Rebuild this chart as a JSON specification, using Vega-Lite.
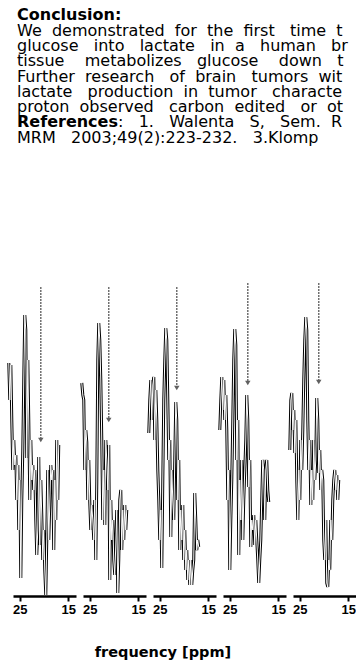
{
  "$schema": "https://vega.github.io/schema/vega-lite/v6.json",
  "background": "white",
  "padding": {"left": 2, "top": 0, "right": 0, "bottom": 0},
  "bounds": "flush",
  "spacing": 130,
  "config": {"view": {"stroke": null}, "font": "DejaVu Sans"},
  "title": {"text": "frequency [ppm]", "orient": "bottom", "anchor": "start", "dx": 92, "offset": 30, "fontSize": 14.5, "fontWeight": "bold", "font": "DejaVu Sans", "color": "black"},
  "datasets": {
    "txt": [
      {"line": 1, "w": "b", "t": "Conclusion:"},
      {"line": 2, "w": "n", "t": "We\u00a0 demonstrated\u00a0 for\u00a0 the\u00a0 first\u00a0\u00a0 time\u00a0 t"},
      {"line": 3, "w": "n", "t": "glucose\u00a0\u00a0 into\u00a0\u00a0 lactate\u00a0\u00a0 in\u00a0 a\u00a0\u00a0 human\u00a0\u00a0 br"},
      {"line": 4, "w": "n", "t": "tissue\u00a0\u00a0\u00a0 metabolizes\u00a0\u00a0 glucose\u00a0\u00a0\u00a0 down\u00a0\u00a0 t"},
      {"line": 5, "w": "n", "t": "Further\u00a0 research\u00a0\u00a0 of\u00a0 brain\u00a0\u00a0 tumors\u00a0 wit"},
      {"line": 6, "w": "n", "t": "lactate\u00a0\u00a0 production\u00a0 in\u00a0 tumor\u00a0\u00a0 characte"},
      {"line": 7, "w": "n", "t": "proton\u00a0 observed\u00a0\u00a0 carbon\u00a0 edited\u00a0\u00a0 or\u00a0 ot"},
      {"line": 8, "w": "b", "t": "References"},
      {"line": 8, "w": "r", "t": ":\u00a0\u00a0 1.\u00a0\u00a0 Walenta\u00a0\u00a0 S,\u00a0\u00a0 Sem.\u00a0 R"},
      {"line": 9, "w": "n", "t": "MRM\u00a0\u00a0 2003;49(2):223-232.\u00a0\u00a0 3.Klomp"}
    ],
    "d": [
      {"k":"a","p":1,"x":20.67,"v":309,"v2":156},
      {"k":"a","p":2,"x":21.09,"v":309,"v2":176},
      {"k":"a","p":3,"x":21.5,"v":309,"v2":208},
      {"k":"a","p":4,"x":21.29,"v":313,"v2":213},
      {"k":"a","p":5,"x":21.09,"v":313,"v2":214},
      {"k":"s","p":1,"x":27.27,"v":233},{"k":"s","p":1,"x":27.06,"v":196},{"k":"s","p":1,"x":26.85,"v":231},{"k":"s","p":1,"x":26.65,"v":176},{"k":"s","p":1,"x":26.44,"v":126},{"k":"s","p":1,"x":26.24,"v":156},{"k":"s","p":1,"x":26.03,"v":131},{"k":"s","p":1,"x":25.82,"v":141},{"k":"s","p":1,"x":25.62,"v":96},{"k":"s","p":1,"x":25.41,"v":131},{"k":"s","p":1,"x":25.21,"v":66},{"k":"s","p":1,"x":25.0,"v":116},{"k":"s","p":1,"x":24.79,"v":18},{"k":"s","p":1,"x":24.59,"v":96},{"k":"s","p":1,"x":24.38,"v":146},{"k":"s","p":1,"x":24.18,"v":216},{"k":"s","p":1,"x":23.97,"v":281},{"k":"s","p":1,"x":23.76,"v":266},{"k":"s","p":1,"x":23.56,"v":138},{"k":"s","p":1,"x":23.35,"v":236},{"k":"s","p":1,"x":23.15,"v":176},{"k":"s","p":1,"x":22.94,"v":96},{"k":"s","p":1,"x":22.73,"v":156},{"k":"s","p":1,"x":22.53,"v":116},{"k":"s","p":1,"x":22.32,"v":131},{"k":"s","p":1,"x":22.12,"v":106},{"k":"s","p":1,"x":21.91,"v":126},{"k":"s","p":1,"x":21.7,"v":76},{"k":"s","p":1,"x":21.5,"v":41},{"k":"s","p":1,"x":21.29,"v":66},{"k":"s","p":1,"x":21.09,"v":139},{"k":"s","p":1,"x":20.88,"v":51},{"k":"s","p":1,"x":20.67,"v":116},{"k":"s","p":1,"x":20.47,"v":81},{"k":"s","p":1,"x":20.26,"v":36},{"k":"s","p":1,"x":20.06,"v":66},{"k":"s","p":1,"x":19.85,"v":26},{"k":"s","p":1,"x":19.64,"v":1},{"k":"s","p":1,"x":19.44,"v":56},{"k":"s","p":1,"x":19.23,"v":126},{"k":"s","p":1,"x":19.03,"v":56},{"k":"s","p":1,"x":18.82,"v":91},{"k":"s","p":1,"x":18.61,"v":131},{"k":"s","p":1,"x":18.41,"v":116},{"k":"s","p":1,"x":18.2,"v":126},{"k":"s","p":1,"x":18.0,"v":46},{"k":"s","p":1,"x":17.79,"v":116},{"k":"s","p":1,"x":17.58,"v":76},{"k":"s","p":1,"x":17.38,"v":156},{"k":"s","p":1,"x":17.17,"v":96},{"k":"s","p":1,"x":16.97,"v":151},
      {"k":"s","p":2,"x":26.65,"v":213},{"k":"s","p":2,"x":26.44,"v":201},{"k":"s","p":2,"x":26.24,"v":196},{"k":"s","p":2,"x":26.03,"v":126},{"k":"s","p":2,"x":25.82,"v":166},{"k":"s","p":2,"x":25.62,"v":154},{"k":"s","p":2,"x":25.41,"v":96},{"k":"s","p":2,"x":25.21,"v":136},{"k":"s","p":2,"x":25.0,"v":93},{"k":"s","p":2,"x":24.79,"v":66},{"k":"s","p":2,"x":24.59,"v":91},{"k":"s","p":2,"x":24.38,"v":76},{"k":"s","p":2,"x":24.18,"v":56},{"k":"s","p":2,"x":23.97,"v":96},{"k":"s","p":2,"x":23.76,"v":36},{"k":"s","p":2,"x":23.56,"v":113},{"k":"s","p":2,"x":23.35,"v":236},{"k":"s","p":2,"x":23.15,"v":273},{"k":"s","p":2,"x":22.94,"v":256},{"k":"s","p":2,"x":22.73,"v":216},{"k":"s","p":2,"x":22.53,"v":156},{"k":"s","p":2,"x":22.32,"v":76},{"k":"s","p":2,"x":22.12,"v":126},{"k":"s","p":2,"x":21.91,"v":71},{"k":"s","p":2,"x":21.7,"v":156},{"k":"s","p":2,"x":21.5,"v":136},{"k":"s","p":2,"x":21.29,"v":106},{"k":"s","p":2,"x":21.09,"v":151},{"k":"s","p":2,"x":20.88,"v":16},{"k":"s","p":2,"x":20.67,"v":96},{"k":"s","p":2,"x":20.47,"v":56},{"k":"s","p":2,"x":20.26,"v":76},{"k":"s","p":2,"x":20.06,"v":36},{"k":"s","p":2,"x":19.85,"v":21},{"k":"s","p":2,"x":19.64,"v":51},{"k":"s","p":2,"x":19.44,"v":86},{"k":"s","p":2,"x":19.23,"v":3},{"k":"s","p":2,"x":19.03,"v":36},{"k":"s","p":2,"x":18.82,"v":96},{"k":"s","p":2,"x":18.61,"v":106},{"k":"s","p":2,"x":18.41,"v":46},{"k":"s","p":2,"x":18.2,"v":86},{"k":"s","p":2,"x":18.0,"v":56},{"k":"s","p":2,"x":17.79,"v":91},{"k":"s","p":2,"x":17.58,"v":66},{"k":"s","p":2,"x":17.38,"v":86},
      {"k":"s","p":3,"x":27.27,"v":163},{"k":"s","p":3,"x":27.06,"v":196},{"k":"s","p":3,"x":26.85,"v":216},{"k":"s","p":3,"x":26.65,"v":176},{"k":"s","p":3,"x":26.44,"v":211},{"k":"s","p":3,"x":26.24,"v":219},{"k":"s","p":3,"x":26.03,"v":156},{"k":"s","p":3,"x":25.82,"v":206},{"k":"s","p":3,"x":25.62,"v":176},{"k":"s","p":3,"x":25.41,"v":126},{"k":"s","p":3,"x":25.21,"v":96},{"k":"s","p":3,"x":25.0,"v":56},{"k":"s","p":3,"x":24.79,"v":86},{"k":"s","p":3,"x":24.59,"v":28},{"k":"s","p":3,"x":24.38,"v":116},{"k":"s","p":3,"x":24.18,"v":196},{"k":"s","p":3,"x":23.97,"v":236},{"k":"s","p":3,"x":23.76,"v":268},{"k":"s","p":3,"x":23.56,"v":256},{"k":"s","p":3,"x":23.35,"v":196},{"k":"s","p":3,"x":23.15,"v":136},{"k":"s","p":3,"x":22.94,"v":156},{"k":"s","p":3,"x":22.73,"v":59},{"k":"s","p":3,"x":22.53,"v":126},{"k":"s","p":3,"x":22.32,"v":96},{"k":"s","p":3,"x":22.12,"v":76},{"k":"s","p":3,"x":21.91,"v":136},{"k":"s","p":3,"x":21.7,"v":194},{"k":"s","p":3,"x":21.5,"v":176},{"k":"s","p":3,"x":21.29,"v":96},{"k":"s","p":3,"x":21.09,"v":136},{"k":"s","p":3,"x":20.88,"v":46},{"k":"s","p":3,"x":20.67,"v":86},{"k":"s","p":3,"x":20.47,"v":56},{"k":"s","p":3,"x":20.26,"v":91},{"k":"s","p":3,"x":20.06,"v":36},{"k":"s","p":3,"x":19.85,"v":66},{"k":"s","p":3,"x":19.64,"v":26},{"k":"s","p":3,"x":19.44,"v":46},{"k":"s","p":3,"x":19.23,"v":16},{"k":"s","p":3,"x":19.03,"v":36},{"k":"s","p":3,"x":18.82,"v":11},{"k":"s","p":3,"x":18.61,"v":36},{"k":"s","p":3,"x":18.41,"v":11},{"k":"s","p":3,"x":18.2,"v":26},{"k":"s","p":3,"x":18.0,"v":36},{"k":"s","p":3,"x":17.79,"v":103},{"k":"s","p":3,"x":17.58,"v":76},{"k":"s","p":3,"x":17.38,"v":46},{"k":"s","p":3,"x":17.17,"v":56},{"k":"s","p":3,"x":16.97,"v":49},
      {"k":"s","p":4,"x":27.06,"v":166},{"k":"s","p":4,"x":26.85,"v":196},{"k":"s","p":4,"x":26.65,"v":219},{"k":"s","p":4,"x":26.44,"v":186},{"k":"s","p":4,"x":26.24,"v":216},{"k":"s","p":4,"x":26.03,"v":176},{"k":"s","p":4,"x":25.82,"v":201},{"k":"s","p":4,"x":25.62,"v":166},{"k":"s","p":4,"x":25.41,"v":96},{"k":"s","p":4,"x":25.21,"v":126},{"k":"s","p":4,"x":25.0,"v":26},{"k":"s","p":4,"x":24.79,"v":76},{"k":"s","p":4,"x":24.59,"v":116},{"k":"s","p":4,"x":24.38,"v":176},{"k":"s","p":4,"x":24.18,"v":236},{"k":"s","p":4,"x":23.97,"v":267},{"k":"s","p":4,"x":23.76,"v":251},{"k":"s","p":4,"x":23.56,"v":136},{"k":"s","p":4,"x":23.35,"v":176},{"k":"s","p":4,"x":23.15,"v":41},{"k":"s","p":4,"x":22.94,"v":116},{"k":"s","p":4,"x":22.73,"v":76},{"k":"s","p":4,"x":22.53,"v":136},{"k":"s","p":4,"x":22.32,"v":56},{"k":"s","p":4,"x":22.12,"v":96},{"k":"s","p":4,"x":21.91,"v":126},{"k":"s","p":4,"x":21.7,"v":156},{"k":"s","p":4,"x":21.5,"v":201},{"k":"s","p":4,"x":21.29,"v":176},{"k":"s","p":4,"x":21.09,"v":109},{"k":"s","p":4,"x":20.88,"v":136},{"k":"s","p":4,"x":20.67,"v":49},{"k":"s","p":4,"x":20.47,"v":76},{"k":"s","p":4,"x":20.26,"v":66},{"k":"s","p":4,"x":20.06,"v":81},{"k":"s","p":4,"x":19.85,"v":51},{"k":"s","p":4,"x":19.64,"v":76},{"k":"s","p":4,"x":19.44,"v":56},{"k":"s","p":4,"x":19.23,"v":36},{"k":"s","p":4,"x":19.03,"v":13},{"k":"s","p":4,"x":18.82,"v":36},{"k":"s","p":4,"x":18.61,"v":56},{"k":"s","p":4,"x":18.41,"v":96},{"k":"s","p":4,"x":18.2,"v":136},{"k":"s","p":4,"x":18.0,"v":126},{"k":"s","p":4,"x":17.79,"v":76},{"k":"s","p":4,"x":17.58,"v":126},{"k":"s","p":4,"x":17.38,"v":136},{"k":"s","p":4,"x":17.17,"v":106},{"k":"s","p":4,"x":16.97,"v":94},
      {"k":"s","p":5,"x":27.06,"v":146},{"k":"s","p":5,"x":26.85,"v":196},{"k":"s","p":5,"x":26.65,"v":203},{"k":"s","p":5,"x":26.44,"v":166},{"k":"s","p":5,"x":26.24,"v":186},{"k":"s","p":5,"x":26.03,"v":143},{"k":"s","p":5,"x":25.82,"v":176},{"k":"s","p":5,"x":25.62,"v":116},{"k":"s","p":5,"x":25.41,"v":76},{"k":"s","p":5,"x":25.21,"v":126},{"k":"s","p":5,"x":25.0,"v":96},{"k":"s","p":5,"x":24.79,"v":156},{"k":"s","p":5,"x":24.59,"v":126},{"k":"s","p":5,"x":24.38,"v":166},{"k":"s","p":5,"x":24.18,"v":216},{"k":"s","p":5,"x":23.97,"v":256},{"k":"s","p":5,"x":23.76,"v":279},{"k":"s","p":5,"x":23.56,"v":266},{"k":"s","p":5,"x":23.35,"v":176},{"k":"s","p":5,"x":23.15,"v":126},{"k":"s","p":5,"x":22.94,"v":156},{"k":"s","p":5,"x":22.73,"v":91},{"k":"s","p":5,"x":22.53,"v":126},{"k":"s","p":5,"x":22.32,"v":96},{"k":"s","p":5,"x":22.12,"v":156},{"k":"s","p":5,"x":21.91,"v":116},{"k":"s","p":5,"x":21.7,"v":136},{"k":"s","p":5,"x":21.5,"v":198},{"k":"s","p":5,"x":21.29,"v":176},{"k":"s","p":5,"x":21.09,"v":123},{"k":"s","p":5,"x":20.88,"v":146},{"k":"s","p":5,"x":20.67,"v":106},{"k":"s","p":5,"x":20.47,"v":126},{"k":"s","p":5,"x":20.26,"v":116},{"k":"s","p":5,"x":20.06,"v":56},{"k":"s","p":5,"x":19.85,"v":36},{"k":"s","p":5,"x":19.64,"v":76},{"k":"s","p":5,"x":19.44,"v":13},{"k":"s","p":5,"x":19.23,"v":9},{"k":"s","p":5,"x":19.03,"v":36},{"k":"s","p":5,"x":18.82,"v":26},{"k":"s","p":5,"x":18.61,"v":76},{"k":"s","p":5,"x":18.41,"v":56},{"k":"s","p":5,"x":18.2,"v":96},{"k":"s","p":5,"x":18.0,"v":116},{"k":"s","p":5,"x":17.79,"v":126},{"k":"s","p":5,"x":17.58,"v":106},{"k":"s","p":5,"x":17.38,"v":121},{"k":"s","p":5,"x":17.17,"v":96},{"k":"s","p":5,"x":16.97,"v":116}
    ]
  },
  "vconcat": [
    {
      "width": 343,
      "height": 153,
      "data": {"name": "txt"},
      "encoding": {
        "x": {"datum": 0, "type": "quantitative", "scale": {"domain": [0, 1]}, "axis": null},
        "y": {"field": "line", "type": "quantitative", "scale": {"domain": [0, 10], "reverse": true, "nice": false, "zero": false}, "axis": null},
        "text": {"field": "t"}
      },
      "layer": [
        {"transform": [{"filter": "datum.w === 'n'"}], "mark": {"type": "text", "align": "left", "baseline": "middle", "dx": 4, "fontSize": 16, "font": "DejaVu Sans", "color": "black", "limit": 339, "ellipsis": ""}},
        {"transform": [{"filter": "datum.w === 'b'"}], "mark": {"type": "text", "align": "left", "baseline": "middle", "dx": 4, "fontSize": 16, "font": "DejaVu Sans", "fontWeight": "bold", "color": "black", "limit": 339, "ellipsis": ""}},
        {"transform": [{"filter": "datum.w === 'r'"}], "mark": {"type": "text", "align": "left", "baseline": "middle", "dx": 105, "fontSize": 16, "font": "DejaVu Sans", "color": "black", "limit": 238, "ellipsis": ""}}
      ]
    },
    {
      "data": {"name": "d"},
      "facet": {"column": {"field": "p", "type": "ordinal", "header": {"labels": false, "title": null}}},
      "spacing": 7,
      "bounds": "flush",
      "spec": {
        "width": 63,
        "height": 313,
        "layer": [
          {
            "transform": [{"filter": "datum.k === 's'"}],
            "mark": {"type": "line", "color": "black", "strokeWidth": 3},
            "encoding": {
              "x": {"field": "x", "type": "quantitative", "scale": {"domain": [26.4, 13.41], "nice": false, "zero": false},
                "axis": {"values": [25, 22.5, 20, 17.5, 15], "title": null, "grid": false,
                  "labelExpr": "datum.value % 5 === 0 ? datum.label : ''",
                  "labelFont": "Liberation Sans", "labelFontWeight": "bold", "labelFontSize": 13, "labelColor": "black",
                  "labelPadding": 2, "labelFlush": false, "labelOverlap": false,
                  "domainColor": "black", "domainWidth": 2.5, "tickColor": "black", "tickWidth": 2,
                  "tickSize": {"condition": {"test": "datum.value % 5 === 0", "value": 5}, "value": 3}}},
              "y": {"field": "v", "type": "quantitative", "scale": {"domain": [0, 313], "nice": false, "zero": false}, "axis": null}
            }
          },
          {
            "transform": [{"filter": "datum.k === 's'"}],
            "mark": {"type": "line", "color": "white", "strokeWidth": 1},
            "encoding": {
              "x": {"field": "x", "type": "quantitative"},
              "y": {"field": "v", "type": "quantitative"}
            }
          },
          {
            "transform": [{"filter": "datum.k === 'a'"}],
            "mark": {"type": "rule", "color": "#707070", "strokeWidth": 1.5, "strokeDash": [2, 1]},
            "encoding": {
              "x": {"field": "x", "type": "quantitative"},
              "y": {"field": "v", "type": "quantitative"},
              "y2": {"field": "v2"}
            }
          },
          {
            "transform": [{"filter": "datum.k === 'a'"}],
            "mark": {"type": "point", "shape": "triangle-down", "filled": true, "color": "#606060", "size": 30, "opacity": 1},
            "encoding": {
              "x": {"field": "x", "type": "quantitative"},
              "y": {"field": "v2", "type": "quantitative"}
            }
          }
        ]
      }
    }
  ]
}
